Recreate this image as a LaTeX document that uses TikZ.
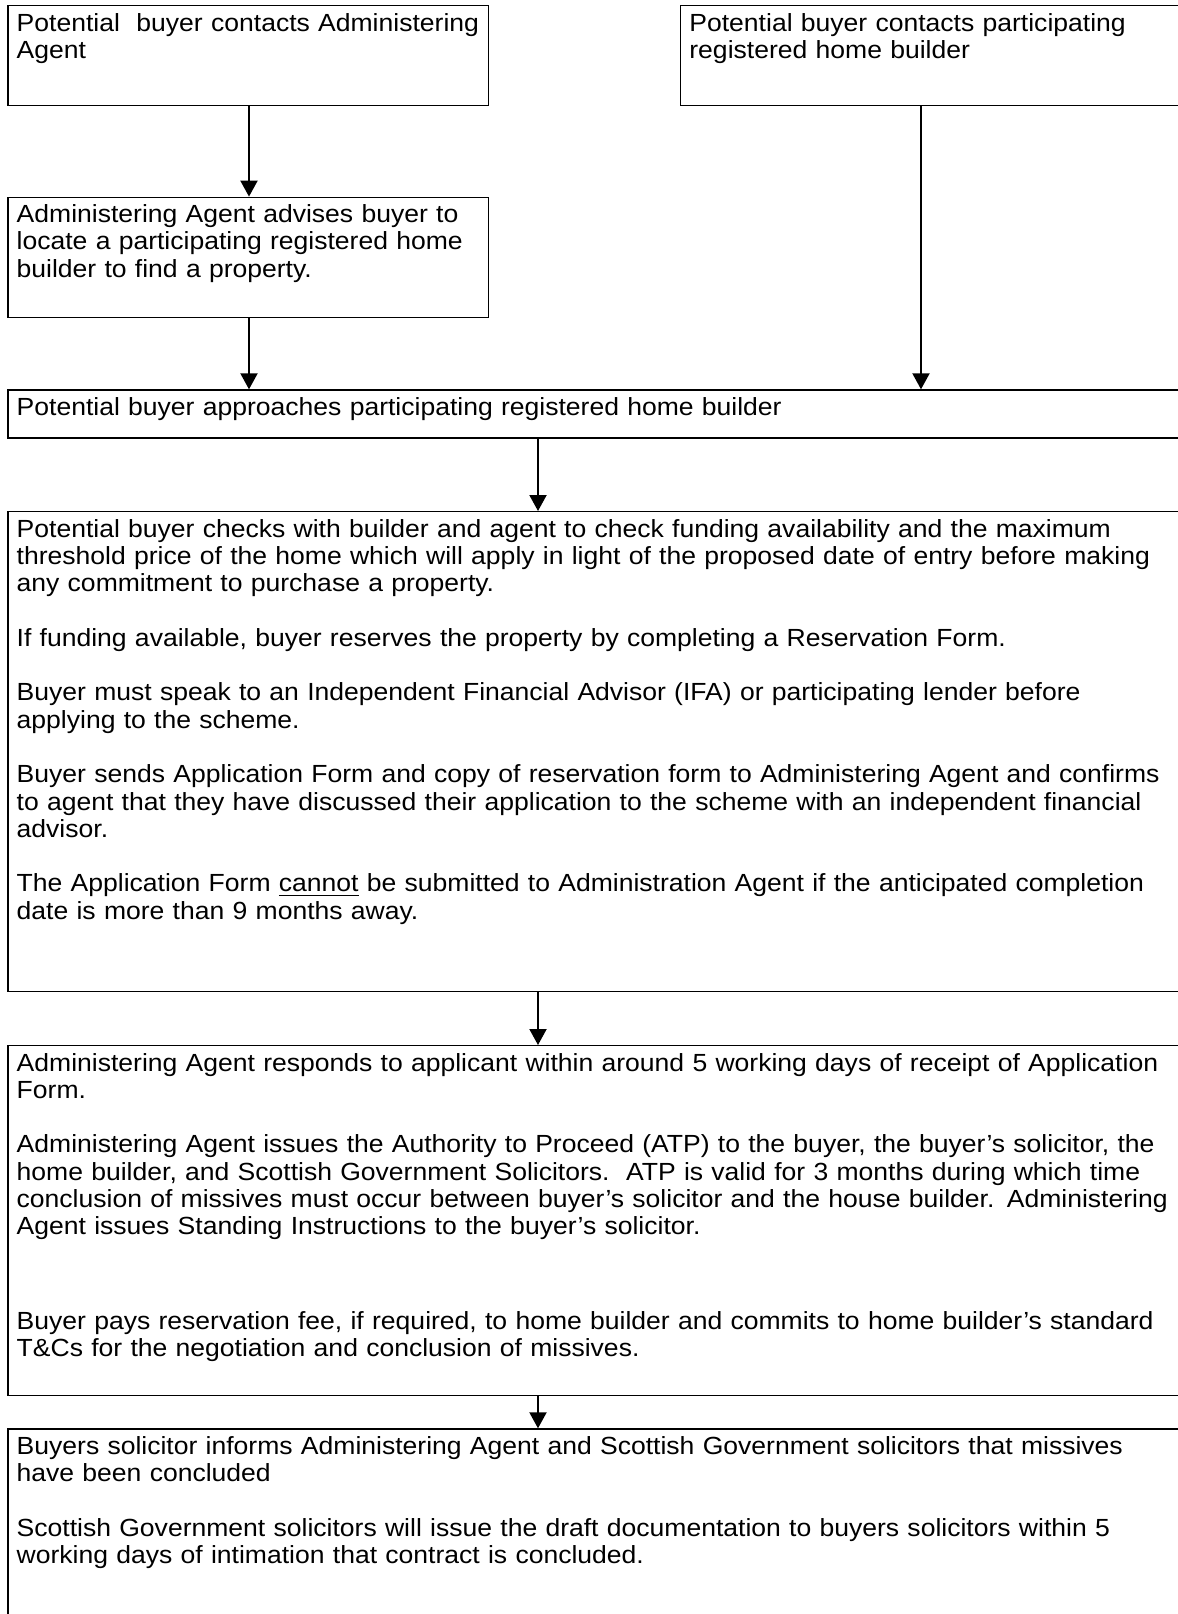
\documentclass[tikz,border=0pt]{standalone}
\usepackage{fontspec}
\setmainfont[FakeStretch=1.07]{Liberation Sans}
\usetikzlibrary{arrows.meta,fit,calc}
\newcommand\blankline{\\[13.65pt]}
\newcommand\jline[1]{\makebox[579.5pt][s]{#1}}
\newcommand\ulword[1]{\underline{#1}}
\tikzset{
  flowbox/.style={draw, line width=0.7pt, rectangle, inner sep=0pt},
  flowtxt/.style={anchor=base west, inner sep=0pt, align=left, text width=640pt,
    font=\fontsize{12.4pt}{13.65pt}\selectfont},
  flowarr/.style={-{Triangle[width=8.5pt,length=8pt]}, line width=1pt}
}
\begin{document}
\begin{tikzpicture}[x=0.5pt,y=-0.5pt]
\useasboundingbox (0,0) rectangle (1178,1614);
\clip (0,0) rectangle (1178,1614);
\fill[white] (0,0) rectangle (1178,1614);
% boxes
\node[flowbox, fit={(8,5.7) (488.3,105.7)}] (b1) {};
\node[flowbox, fit={(680.7,5.7) (1210,105.7)}] (b2) {};
\node[flowbox, fit={(8,197.3) (488.3,317.5)}] (b3) {};
\node[flowbox, fit={(8,390) (1210,438)}] (b4) {};
\node[flowbox, fit={(8,511.7) (1210,991.7)}] (b5) {};
\node[flowbox, fit={(8,1045.7) (1210,1395.7)}] (b6) {};
\node[flowbox, fit={(8,1429) (1210,1700)}] (b7) {};
% texts
\node[flowtxt] (t1) at ($(b1.north west)+(9,26)$) {Potential\ \ buyer contacts Administering\\Agent};
\node[flowtxt] (t2) at ($(b2.north west)+(9,26)$) {Potential buyer contacts participating\\registered home builder};
\node[flowtxt] (t3) at ($(b3.north west)+(9,26)$) {Administering Agent advises buyer to\\locate a participating registered home\\builder to find a property.};
\node[flowtxt] (t4) at ($(b4.north west)+(9,26)$) {Potential buyer approaches participating registered home builder};
\node[flowtxt] (t5) at ($(b5.north west)+(9,26)$) {Potential buyer checks with builder and agent to check funding availability and the maximum\\
threshold price of the home which will apply in light of the proposed date of entry before making\\
any commitment to purchase a property.\blankline
If funding available, buyer reserves the property by completing a Reservation Form.\blankline
Buyer must speak to an Independent Financial Advisor (IFA) or participating lender before\\
applying to the scheme.\blankline
Buyer sends Application Form and copy of reservation form to Administering Agent and confirms\\
to agent that they have discussed their application to the scheme with an independent financial\\
advisor.\blankline
The Application Form \ulword{cannot} be submitted to Administration Agent if the anticipated completion\\
date is more than 9 months away.};
\node[flowtxt] (t6) at ($(b6.north west)+(9,26)$) {Administering Agent responds to applicant within around 5 working days of receipt of Application\\
Form.\blankline
\jline{Administering Agent issues the Authority to Proceed (ATP) to the buyer, the buyer’s solicitor, the}\\
\jline{home builder, and Scottish Government Solicitors.\ \ ATP is valid for 3 months during which time}\\
\jline{conclusion of missives must occur between buyer’s solicitor and the house builder. Administering}\\
Agent issues Standing Instructions to the buyer’s solicitor.\\[33.5pt]
Buyer pays reservation fee, if required, to home builder and commits to home builder’s standard\\
T\&Cs for the negotiation and conclusion of missives.};
\node[flowtxt] (t7) at ($(b7.north west)+(9,26)$) {Buyers solicitor informs Administering Agent and Scottish Government solicitors that missives\\
have been concluded\blankline
Scottish Government solicitors will issue the draft documentation to buyers solicitors within 5\\
working days of intimation that contract is concluded.};
% connector x positions
\coordinate (xl) at (249,0);
\coordinate (xr) at (921,0);
\coordinate (xc) at (538,0);
% arrows
\draw[flowarr] (b1.south -| xl) -- (b3.north -| xl);
\draw[flowarr] (b3.south -| xl) -- (b4.north -| xl);
\draw[flowarr] (b2.south -| xr) -- (b4.north -| xr);
\draw[flowarr] (b4.south -| xc) -- (b5.north -| xc);
\draw[flowarr] (b5.south -| xc) -- (b6.north -| xc);
\draw[flowarr] (b6.south -| xc) -- (b7.north -| xc);
\end{tikzpicture}
\end{document}
